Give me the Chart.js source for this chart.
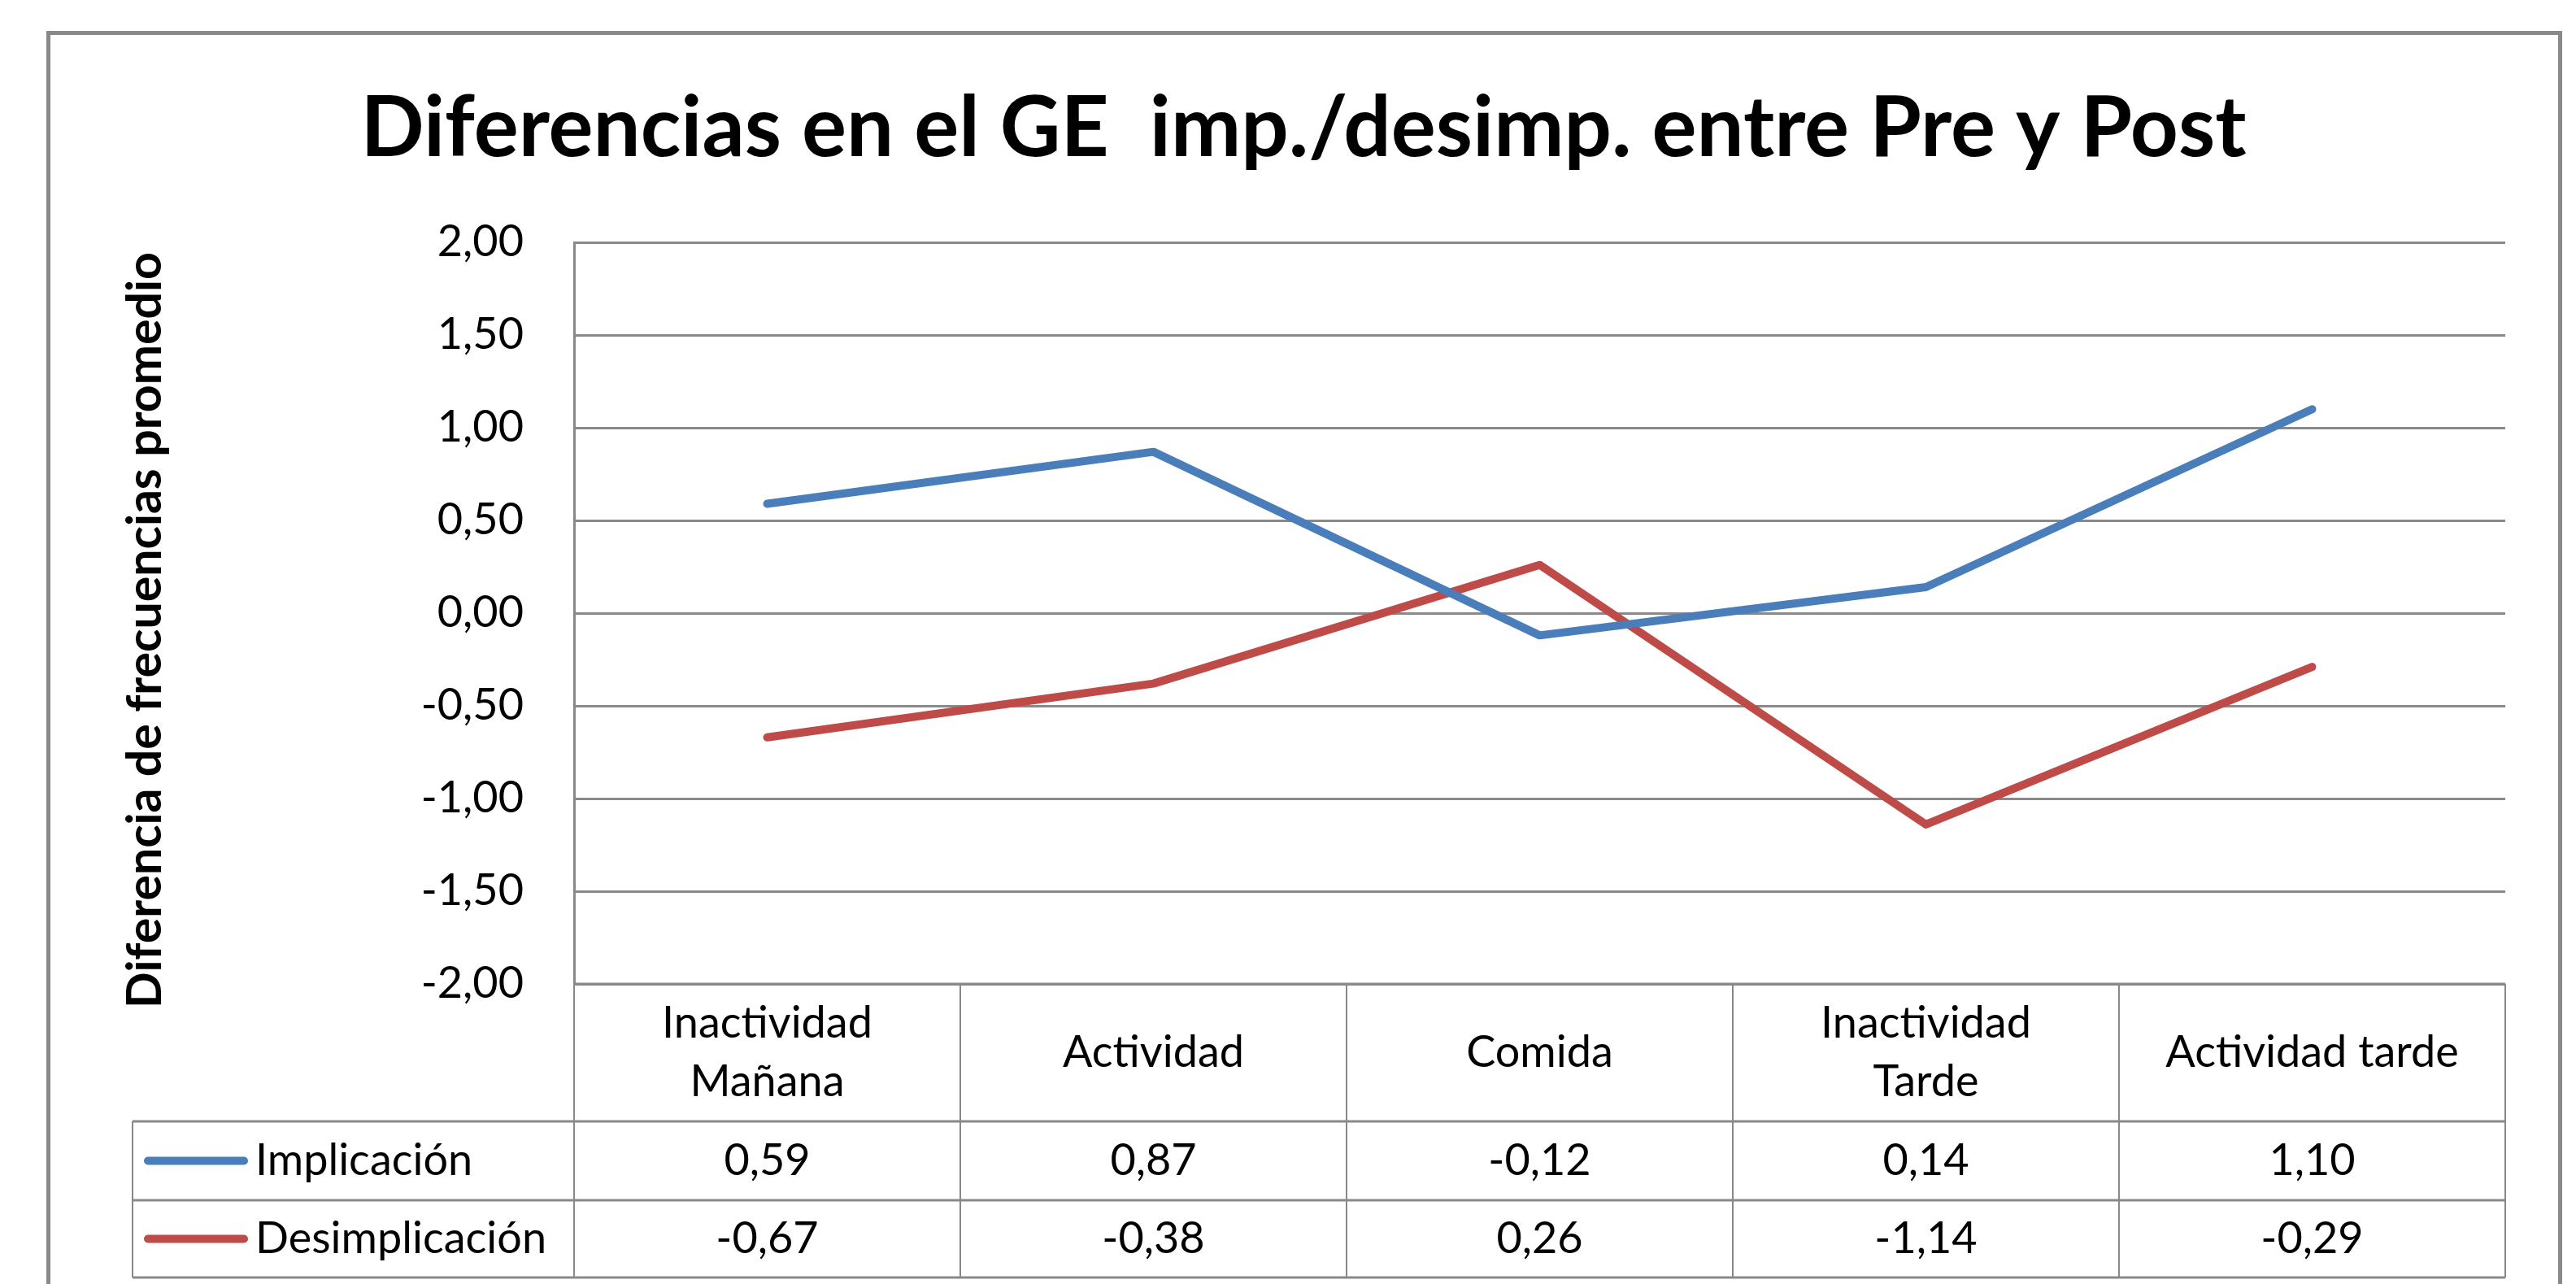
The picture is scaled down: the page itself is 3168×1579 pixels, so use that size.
<!DOCTYPE html>
<html>
<head>
<meta charset="utf-8">
<script src="https://cdn.jsdelivr.net/npm/chart.js@4.4.1/dist/chart.umd.min.js"></script>
<style>
html,body{margin:0;padding:0;background:#fff}
canvas{display:block}
</style>
</head>
<body>
<canvas id="chart" width="3168" height="1579"></canvas>
<script>
// ── DATA ─────────────────────────────────────────────────
var categories=[['Inactividad','Mañana'],'Actividad','Comida',['Inactividad','Tarde'],'Actividad tarde'];
var implicacion=[0.59,0.87,-0.12,0.14,1.10];
var desimplicacion=[-0.67,-0.38,0.26,-1.14,-0.29];
var seriesNames=['Implicación','Desimplicación'];
var seriesColors=['#4A7EBB','#BE4B48'];
var yTicks=[-2,-1.5,-1,-0.5,0,0.5,1,1.5,2];
var chartTitle='Diferencias en el GE  imp./desimp. entre Pre y Post';
var yTitle='Diferencia de frecuencias promedio';

var GRID='#898989';
var FONT='Lato, "Open Sans", sans-serif';

function fmt(v){return v.toFixed(2).replace('.',',');}

// ── DECORATION: frame, titles, data table ────────────────
var deco={
  id:'deco',
  beforeDraw:function(ch){
    var c=ch.ctx;
    c.save();
    c.fillStyle='#fff';c.fillRect(0,0,ch.width,ch.height);
    c.strokeStyle=GRID;c.lineWidth=5;
    c.strokeRect(59.5,40.5,3089,1700);
    // title
    c.fillStyle='#000';
    c.font='bold 103px '+FONT;
    c.textAlign='center';c.textBaseline='alphabetic';
    c.fillText(chartTitle,1603,192);
    // y title (rotated, baseline on the right)
    c.translate(198,775);c.rotate(-Math.PI/2);
    c.font='bold 59px '+FONT;
    c.fillText(yTitle,0,0);
    c.restore();
  },
  afterDraw:function(ch){
    var c=ch.ctx,x=ch.scales.x,a=ch.chartArea;
    var colW=x.getPixelForValue(1)-x.getPixelForValue(0);
    var left=a.left,right=x.getPixelForValue(categories.length-1)+colW/2;
    var top=a.bottom,hdrB=1379,r1B=1476,r2B=1571,legL=163;
    var rows=[implicacion,desimplicacion];
    c.save();
    c.strokeStyle=GRID;
    // horizontal rules
    c.lineWidth=3;
    c.beginPath();
    c.moveTo(left,top);c.lineTo(right,top);
    [hdrB,r1B,r2B].forEach(function(y){c.moveTo(legL,y);c.lineTo(right,y);});
    c.stroke();
    // vertical rules
    c.lineWidth=2;
    c.beginPath();
    for(var i=0;i<=categories.length;i++){
      var vx=left+i*colW;
      c.moveTo(vx,top);c.lineTo(vx,r2B);
    }
    c.moveTo(legL,hdrB);c.lineTo(legL,r2B);
    c.stroke();
    // header labels
    c.fillStyle='#000';
    c.font='54px '+FONT;
    c.textAlign='center';c.textBaseline='middle';
    var hc=(top+hdrB)/2;
    categories.forEach(function(lab,i){
      var cx=x.getPixelForValue(i);
      if(Array.isArray(lab)){
        c.fillText(lab[0],cx,hc-36);
        c.fillText(lab[1],cx,hc+36);
      } else c.fillText(lab,cx,hc);
    });
    // value rows + legend keys
    var bounds=[[hdrB,r1B],[r1B,r2B]];
    rows.forEach(function(vals,r){
      var cy=(bounds[r][0]+bounds[r][1])/2;
      c.textAlign='center';
      vals.forEach(function(v,i){c.fillText(fmt(v),x.getPixelForValue(i),cy);});
      c.strokeStyle=seriesColors[r];c.lineWidth=10;c.lineCap='round';
      c.beginPath();c.moveTo(182,cy);c.lineTo(300,cy);c.stroke();
      c.textAlign='left';
      c.fillText(seriesNames[r],314,cy);
    });
    c.restore();
  }
};

new Chart(document.getElementById('chart').getContext('2d'),{
  type:'line',
  data:{
    labels:categories.map(function(l){return Array.isArray(l)?l.join(' '):l;}),
    datasets:[
      {label:seriesNames[0],data:implicacion,borderColor:seriesColors[0],borderWidth:10,pointRadius:0,tension:0,borderJoinStyle:'round',borderCapStyle:'round'},
      {label:seriesNames[1],data:desimplicacion,borderColor:seriesColors[1],borderWidth:10,pointRadius:0,tension:0,borderJoinStyle:'round',borderCapStyle:'round'}
    ]
  },
  options:{
    responsive:false,
    animation:false,
    layout:{padding:{left:0,top:298,right:87,bottom:369}},
    plugins:{legend:{display:false},tooltip:{enabled:false},title:{display:false}},
    scales:{
      x:{type:'category',offset:true,display:false},
      y:{
        min:-2,max:2,
        afterFit:function(s){s.width=706;},
        afterBuildTicks:function(s){s.ticks=yTicks.map(function(v){return {value:v};});},
        ticks:{padding:62,color:'#000',font:{family:FONT,size:54},callback:function(v){return fmt(v);}},
        grid:{color:GRID,lineWidth:3,drawTicks:false},
        border:{color:GRID,width:3}
      }
    }
  },
  plugins:[deco]
});
</script>
</body>
</html>
